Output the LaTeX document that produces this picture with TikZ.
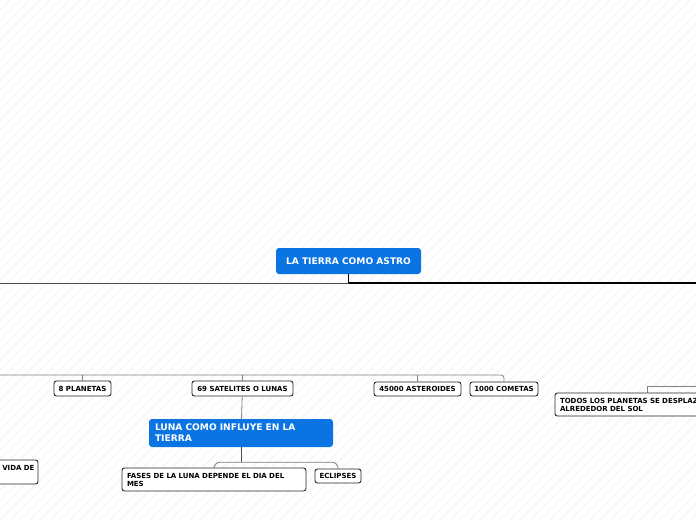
\documentclass[tikz,border=0pt]{standalone}
\usepackage{fontspec}
\setmainfont{DejaVu Sans}
\usepackage{tikz}
\usetikzlibrary{positioning, calc}
\definecolor{mapblue}{HTML}{0A74E2}

\begin{document}
\begin{tikzpicture}[
        x=1pt, y=-1pt,
        topic/.style  = {fill=mapblue, rounded corners=3pt, text=white, inner sep=0pt, align=left, font=\bfseries\fontsize{9.1}{11}\selectfont},
        leaf/.style   = {draw=black!85, line width=0.9pt, fill=white, rounded corners=2.5pt, inner sep=0pt, minimum height=14, align=left, font=\bfseries\fontsize{7}{8}\selectfont},
        link/.style   = {draw=black!50, line width=0.8pt},
        stripe/.style = {draw=black!3, line width=1.5pt},
    ]
        \clip (0,0) rectangle (696,520);
        \fill[white] (0,0) rectangle (696,520);
        \foreach \i in {-520,-510,...,700}
            \draw[stripe] (\i,520) -- ++(520,-520);

        % nodes
        \node[topic, minimum width=145, minimum height=26, align=center] (root) at (348.5,261) {LA TIERRA COMO ASTRO};
        \node[leaf, minimum width=57, minimum height=15] (planetas) at (82.5,388.5) {8 PLANETAS};
        \node[leaf, minimum width=101, minimum height=15] (satelites) at (242.5,388.5) {69 SATELITES O LUNAS};
        \node[leaf, minimum width=87] (asteroides) at (417.5,389) {45000 ASTEROIDES};
        \node[leaf, minimum width=68] (cometas) at (504,389) {1000 COMETAS};
        \node[topic, minimum width=184, minimum height=28, text width=172] (luna) at (241,433) {LUNA COMO INFLUYE EN LA\\TIERRA};
        \node[leaf, minimum width=184, minimum height=23, text width=174] (fases) at (214,479.5) {FASES DE LA LUNA DEPENDE EL DIA DEL\\MES};
        \node[leaf, minimum width=46] (eclipses) at (338,476) {ECLIPSES};
        \node[leaf, minimum width=78, minimum height=24, text width=71, align=right, text depth=8] (vida) at (-1,472) {VIDA DE};
        \node[leaf, minimum width=205, minimum height=23, text width=195] (todos) at (657.5,404.5) {TODOS LOS PLANETAS SE DESPLAZAN\\ALREDEDOR DEL SOL};

        % connectors
        \coordinate (hubL) at (0,283);
        \coordinate (hubR) at (696,283);
        \coordinate (barL) at (0,375);
        \coordinate (todosin) at (696,386);
        \draw[black, line width=0.9pt] (root) -- (root.south |- hubL);
        \draw[black!70, line width=0.9pt] (hubL) -- (root.south |- hubL);
        \draw[black, line width=1.6pt] (root.south |- hubL) -- (hubR);
        \draw[link, rounded corners=3pt] (barL) -- (cometas.north |- barL) -- (cometas.north);
        \foreach \n in {planetas, satelites, asteroides}
            \draw[link] (\n.north |- barL) -- (\n.north);
        \draw[link] (satelites) -- (luna);
        \draw[black!70, line width=1pt] (luna) -- ($(luna.south)+(0,15)$);
        \draw[link, rounded corners=6pt] (fases.north) |- ($(luna.south)+(0,15)$) -| (eclipses.north);
        \draw[link] (todosin) -| ([xshift=-10]todos.north);
    \end{tikzpicture}
\end{document}
